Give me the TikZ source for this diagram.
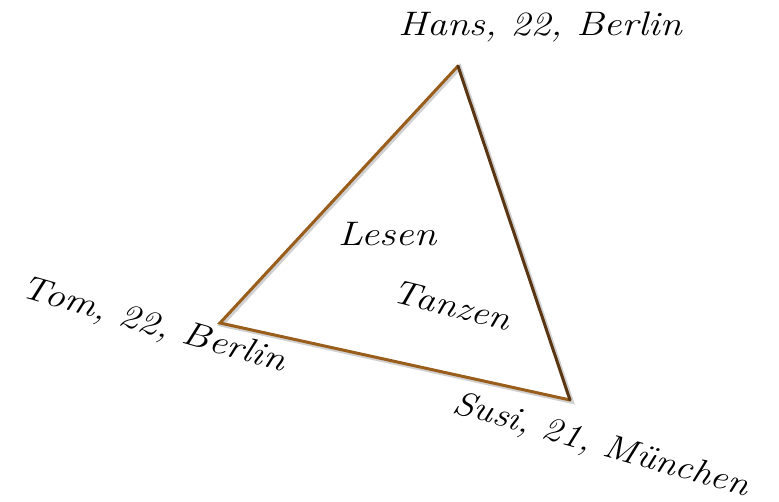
\documentclass[tikz,border=0pt]{standalone}
\usepackage{fontspec}
\setmainfont{Latin Modern Roman}
\begin{document}
\begin{tikzpicture}[x=1pt,y=1pt,
  lbl/.style={font=\fontsize{34}{38}\selectfont\itshape, inner sep=0pt},
  edgeA/.style={draw=brown1, line width=3pt, line cap=round, line join=miter},
  edgeB/.style={draw=brown2, line width=3pt, line cap=round},
  shadowline/.style={draw=black!18, line width=4.5pt, line cap=round}]
\definecolor{brown1}{HTML}{9A5E1C}
\definecolor{brown2}{HTML}{5A3612}
\useasboundingbox (0,0) rectangle (779,502);
\coordinate (H) at (458,436);
\coordinate (T) at (220,179);
\coordinate (S) at (570,102);
\draw[shadowline] ([shift={(1.5,-1.5)}]H) -- ([shift={(1.5,-1.5)}]S) -- ([shift={(1.5,-1.5)}]T) -- cycle;
\draw[edgeA] (S) -- (T) -- (H);
\draw[edgeB] (H) -- (S);
\node[lbl, xscale=1.17] (hans) at (540,475) {Hans, 22, Berlin};
\node[lbl, rotate=-16, xscale=1.17] (tom) at (153,176) {Tom, 22, Berlin};
\node[lbl, rotate=-16, xscale=1.13] (susi) at (601,56) {Susi, 21, München};
\node[lbl, xscale=1.2] (lesen) at (387,268) {Lesen};
\node[lbl, rotate=-14, xscale=1.15] (tanzen) at (452,197) {Tanzen};
\end{tikzpicture}
\end{document}
